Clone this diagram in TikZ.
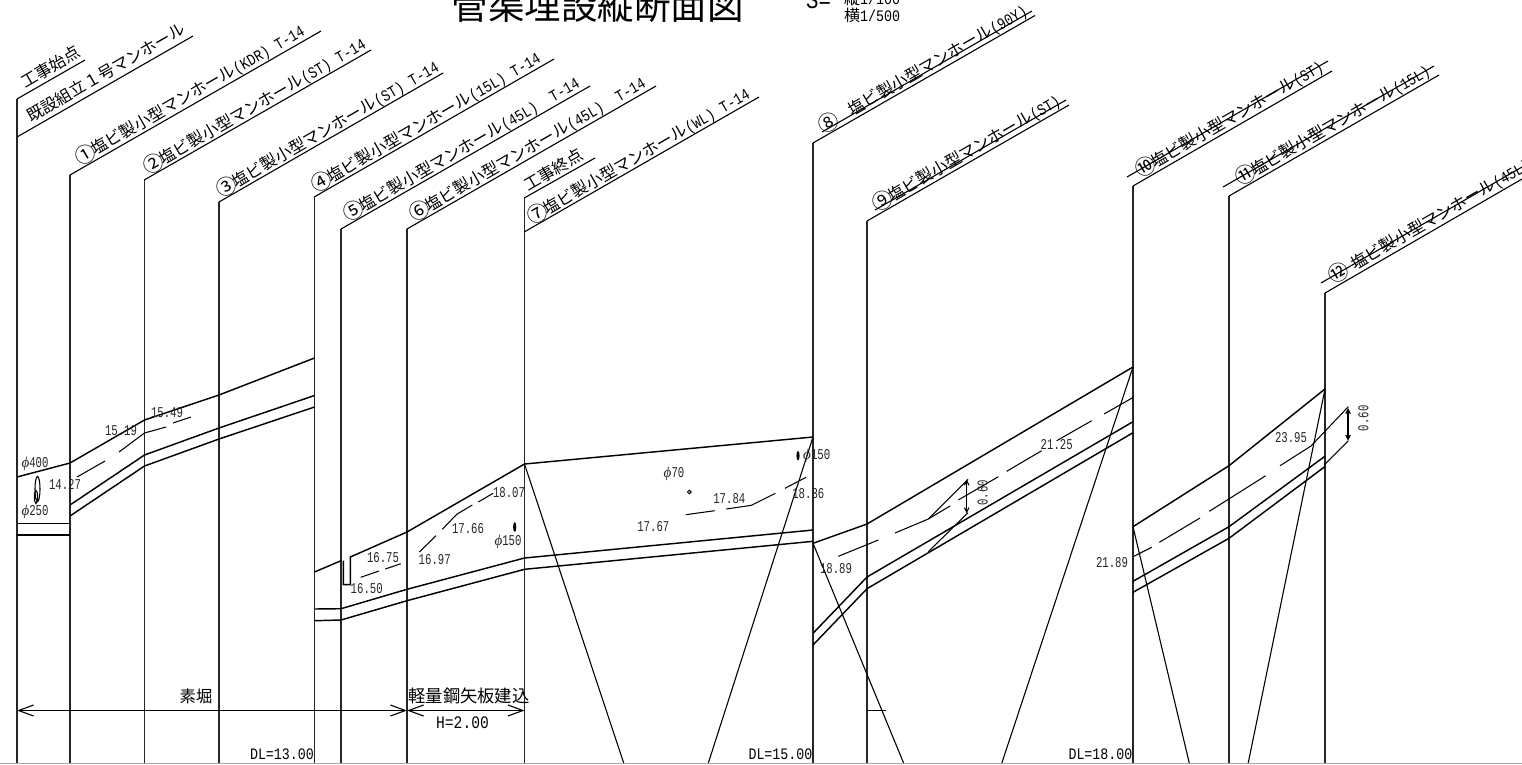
\documentclass[tikz,border=0pt]{standalone}
\usepackage{fontspec}
\usetikzlibrary{arrows.meta}
\setmainfont{Noto Sans CJK JP}
\newfontfamily\gj{Noto Sans CJK JP}
\newfontfamily\hw[FakeStretch=0.83]{Liberation Mono}
\newfontfamily\hws[FakeStretch=0.71]{Liberation Mono}
\newfontfamily\phf[ItalicFont={Liberation Serif Italic}]{Liberation Serif}
\newcommand{\lsize}{\fontsize{16.3}{16}\selectfont}
\newcommand{\dsize}{\fontsize{16}{16}\selectfont}
\newcommand{\ssize}{\fontsize{15}{15}\selectfont}
\newcommand{\cn}[1]{\makebox[1em]{\raisebox{-1.6pt}{\fontsize{20.5}{20}\selectfont #1}}}
\newcommand{\ph}{{\phf\itshape ϕ}}
\tikzset{
  wall/.style={line width=1.2pt,black!85},
  earth/.style={line width=1.45pt,black},
  thin line/.style={line width=1.05pt,black},
  cut/.style={line width=1.1pt,black},
  lead/.style={line width=1.1pt,black},
  label text/.style={rotate=30,anchor=base west,inner sep=0pt,font=\lsize\gj,xshift=2.5pt,yshift=1.5pt},
  small text/.style={inner sep=0pt,anchor=center,font=\ssize\hws,text=black!85},
  dim text/.style={inner sep=0pt,anchor=center,font=\dsize\hw},
  big dim/.style={line width=1.1pt,{Straight Barb[length=15pt,width=11pt]}-{Straight Barb[length=15pt,width=11pt]}},
  small dim/.style={line width=1.1pt,{Straight Barb[length=4.5pt,width=4.5pt]}-{Straight Barb[length=4.5pt,width=4.5pt]}},
}
\begin{document}
\begin{tikzpicture}[x=1pt,y=-1pt]
\useasboundingbox (0,0) rectangle (1522,764);
\clip (0,0) rectangle (1522,764);

% title
\node[inner sep=0pt,anchor=center,font=\fontsize{36.5}{37}\selectfont\gj] (title) at (597.5,6) {管渠埋設縦断面図};
\node[inner sep=0pt,anchor=base west,font=\fontsize{25}{25}\selectfont\hw] (scaleS) at (806,8) {S=};
\node[inner sep=0pt,anchor=base west,font=\fontsize{16}{16}\selectfont] (scaleV) at (844,4) {\gj 縦\hw 1/100};
\node[inner sep=0pt,anchor=base west,font=\fontsize{16}{16}\selectfont] (scaleH) at (844,21) {\gj 横\hw 1/500};

% verticals with their leaders
\draw[wall] (17,764) -- (17,99);
\draw[lead] (17,99) -- (85,60);
\draw[lead] (17,137) -- (193,36);
\draw[wall] (70,764) -- (70,175); \draw[lead] (70,175) -- (321,31);
\draw[wall] (144.2,764) -- (144.2,180); \draw[lead] (144.2,180) -- (371,50);
\draw[wall] (219,764) -- (219,202); \draw[lead] (219,202) -- (443,73);
\draw[wall] (314.2,764) -- (314.2,197); \draw[lead] (314.2,197) -- (554,59);
\draw[wall] (341,764) -- (341,229); \draw[lead] (341,229) -- (590,86);
\draw[wall] (407,764) -- (407,229); \draw[lead] (407,229) -- (656,86);
\draw[wall] (524.2,764) -- (524.2,198); \draw[lead] (524.2,198) -- (595,158);
\draw[lead] (524.2,232) -- (759,97);
\draw[wall] (813,764) -- (813,143); \draw[lead] (813,143) -- (1035,15.5);
\draw[lead] (822,132) -- (1032,11);
\draw[wall] (867,764) -- (867,221); \draw[lead] (867,221) -- (1069,105);
\draw[lead] (875,210) -- (1066,100);
\draw[wall] (1133,764) -- (1133,186); \draw[lead] (1133,186) -- (1332,71);
\draw[lead] (1127,177) -- (1328,61);
\draw[wall] (1229,764) -- (1229,196); \draw[lead] (1229,196) -- (1439,75);
\draw[lead] (1223,187) -- (1434,66);
\draw[wall] (1325,764) -- (1325,293); \draw[lead] (1325,293) -- (1522,179);
\draw[lead] (1321,283) -- (1522,167);

% leader labels
\node[label text] (a0) at (24,91) {工事始点};
\node[label text] (a1) at (30,125) {既設組立１号マンホール};
\node[label text] (m1) at (80,166.5) {\cn{①}塩ビ製小型マンホール{\dsize\hw (KDR) T-14}};
\node[label text] (m2) at (148,176) {\cn{②}塩ビ製小型マンホール{\dsize\hw (ST) T-14}};
\node[label text] (m3) at (221,199) {\cn{③}塩ビ製小型マンホール{\dsize\hw (ST) T-14}};
\node[label text] (m4) at (316,194) {\cn{④}塩ビ製小型マンホール{\dsize\hw (15L) T-14}};
\node[label text] (m5) at (348,223) {\cn{⑤}塩ビ製小型マンホール{\dsize\hw (45L)\ \ T-14}};
\node[label text] (m6) at (414,223) {\cn{⑥}塩ビ製小型マンホール{\dsize\hw (45L)\ \ T-14}};
\node[label text] (b0) at (527,194) {工事終点};
\node[label text] (m7) at (532,226) {\cn{⑦}塩ビ製小型マンホール{\dsize\hw (WL) T-14}};
\node[label text] (m8) at (823,135) {\cn{⑧}　塩ビ製小型マンホール{\dsize\hw (90Y)}};
\node[label text] (m9) at (877,213) {\cn{⑨}塩ビ製小型マンホール{\dsize\hw (ST)}};
\node[label text] (m10) at (1140,179) {\cn{⑩}塩ビ製小型マンホール{\dsize\hw (ST)}};
\node[label text] (m11) at (1240,187) {\cn{⑪}塩ビ製小型マンホール{\dsize\hw (15L)}};
\node[label text] (m12) at (1333,285) {\cn{⑫}{\hw\ }塩ビ製小型マンホール{\dsize\hw (45L)}};

% section 1
\draw[earth] (17,477) -- (70,463) -- (144.5,420) -- (219,395) -- (314.5,358);
\draw[earth] (70,505) -- (144.5,455) -- (219,428) -- (314.5,395.5);
\draw[earth] (70,516) -- (144.5,466) -- (219,439) -- (314.5,407);
\draw[earth] (17,523.5) -- (70,523.5);
\draw[earth] (17,535) -- (70,535);
\draw[thin line] (77,477) -- (105,461);
\draw[thin line] (119,452) -- (144.5,433) -- (166,427);
\draw[thin line] (173,423) -- (191,417);
\draw[line width=1.1pt] (37.5,489) ellipse [x radius=2.5,y radius=12.5];
\draw[line width=1.1pt] (36,497) ellipse [x radius=1.6,y radius=6.5];
\node[small text] (t1) at (35,464) {\ph 400};
\node[small text] (t2) at (65,484) {14.27};
\node[small text] (t3) at (35,512) {\ph 250};
\node[small text] (t4) at (121,431) {15.19};
\node[small text] (t5) at (167,413) {15.49};

% section 2
\draw[earth] (314.5,572) -- (341,560.7) (343.3,560.7) -- (343.3,584.7) -- (350.3,584.7) -- (350.3,557) -- (407,532) -- (524.5,464);
\draw[earth] (314.5,609) -- (341,608.7) -- (407,589.3) -- (524.5,558);
\draw[earth] (314.5,620.7) -- (341,620) -- (407,600.7) -- (524.5,569.3);
\draw[thin line] (360.7,577.3) -- (379,571);
\draw[thin line] (385.3,569) -- (400.7,563.7);
\draw[thin line] (419.3,552) -- (436,535.7);
\draw[thin line] (442.3,529.3) -- (456.7,514.3) -- (472.3,505);
\draw[thin line] (478.3,502) -- (493,493.3);
\fill (514.7,527) ellipse [x radius=1.6,y radius=5];
\node[small text] (t6) at (383,557.3) {16.75};
\node[small text] (t7) at (366.7,589) {16.50};
\node[small text] (t8) at (434.7,560) {16.97};
\node[small text] (t9) at (468,529) {17.66};
\node[small text] (t10) at (509,492.7) {18.07};
\node[small text] (t11) at (508,542.3) {\ph 150};

% section 3
\draw[earth] (524.5,464) -- (813,437);
\draw[earth] (524.5,558) -- (813,530);
\draw[earth] (524.5,569.3) -- (813,541.3);
\draw[cut] (524.5,464) -- (624,764);
\draw[cut] (813,437) -- (708,764);
\draw[thin line] (685.7,514.7) -- (714.7,510.7);
\draw[thin line] (726.3,509) -- (751.3,505.3) -- (775.3,493.3);
\draw[thin line] (785,488.3) -- (806,477.3);
\draw[line width=1pt] (689.3,492) circle [radius=1.8];
\fill (798,455.7) ellipse [x radius=1.6,y radius=4.8];
\node[small text] (t12) at (674,474) {\ph 70};
\node[small text] (t13) at (729.3,498.3) {17.84};
\node[small text] (t14) at (653.3,527) {17.67};
\node[small text] (t15) at (816.7,456) {\ph 150};
\node[small text] (t16) at (808.3,494) {18.36};

% section 4
\draw[earth] (813,543.3) -- (867,524) -- (1133,367);
\draw[earth] (813,633.3) -- (867,577) -- (1133,421.7);
\draw[earth] (813,645) -- (867,588.7) -- (1133,432.7);
\draw[cut] (813,543.3) -- (904,764);
\draw[cut] (1133,367) -- (1001.5,764);
\draw[thin line] (838.3,556.3) -- (878.3,540);
\draw[thin line] (895,533) -- (928.3,519) -- (950,506);
\draw[thin line] (958.3,500) -- (998.3,476.7);
\draw[thin line] (1006.7,471.3) -- (1041.7,450.7);
\draw[thin line] (1056.7,440.7) -- (1091.7,420.7);
\draw[thin line] (1104,414) -- (1133,397.5);
\draw[thin line] (928.3,519) -- (968,479.3);
\draw[thin line] (928.3,551.7) -- (968,512.7);
\draw[small dim] (966.7,479.5) -- (966.7,513.3);
\node[small text,rotate=90] (t17) at (982.7,492.7) {0.60};
\node[small text] (t18) at (836,569) {18.89};
\node[small text] (t19) at (1056.7,444.7) {21.25};
\node[small text] (t20) at (1112,562.3) {21.89};

% section 5
\draw[earth] (1133,526.7) -- (1229,465.7) -- (1325,389);
\draw[earth] (1133,581.3) -- (1229,526.7) -- (1325,456.2);
\draw[earth] (1133,592.3) -- (1229,538.3) -- (1325,466.5);
\draw[cut] (1133,526.7) -- (1189.5,764);
\draw[cut] (1325,389) -- (1248,764);
\draw[thin line] (1133,556.7) -- (1151.7,547.3);
\draw[thin line] (1159.3,542.3) -- (1200,518);
\draw[thin line] (1209.3,511.3) -- (1265.7,475.7);
\draw[thin line] (1280,465.7) -- (1311,446) -- (1348.3,406.7);
\draw[thin line] (1324,465) -- (1348.3,440.7);
\draw[small dim] (1348,408) -- (1348,440.7);
\node[small text,rotate=90] (t21) at (1363.3,418.3) {0.60};
\node[small text] (t22) at (1291,438) {23.95};

% excavation dimensions
\draw[big dim] (17,710.5) -- (407,710.5);
\draw[big dim] (407,710.5) -- (524.5,710.5);
\draw[line width=1.1pt] (867,710.5) -- (886,710.5);
\node[inner sep=0pt,anchor=center,font=\lsize\gj] (d1) at (196,696) {素堀};
\node[inner sep=0pt,anchor=center,font=\fontsize{17.3}{17}\selectfont\gj] (d2) at (469,696) {軽量鋼矢板建込};
\node[inner sep=0pt,anchor=center,font=\fontsize{17.6}{17}\selectfont\hw] (d3) at (462.5,722.7) {H=2.00};
\node[dim text,anchor=east] (d4) at (314,754) {DL=13.00};
\node[dim text,anchor=east] (d5) at (812.5,754) {DL=15.00};
\node[dim text,anchor=east] (d6) at (1132.5,754) {DL=18.00};

% lower edge of the sheet
\draw[line width=1pt,black!35] (0,763.5) -- (1522,763.5);
\end{tikzpicture}
\end{document}
